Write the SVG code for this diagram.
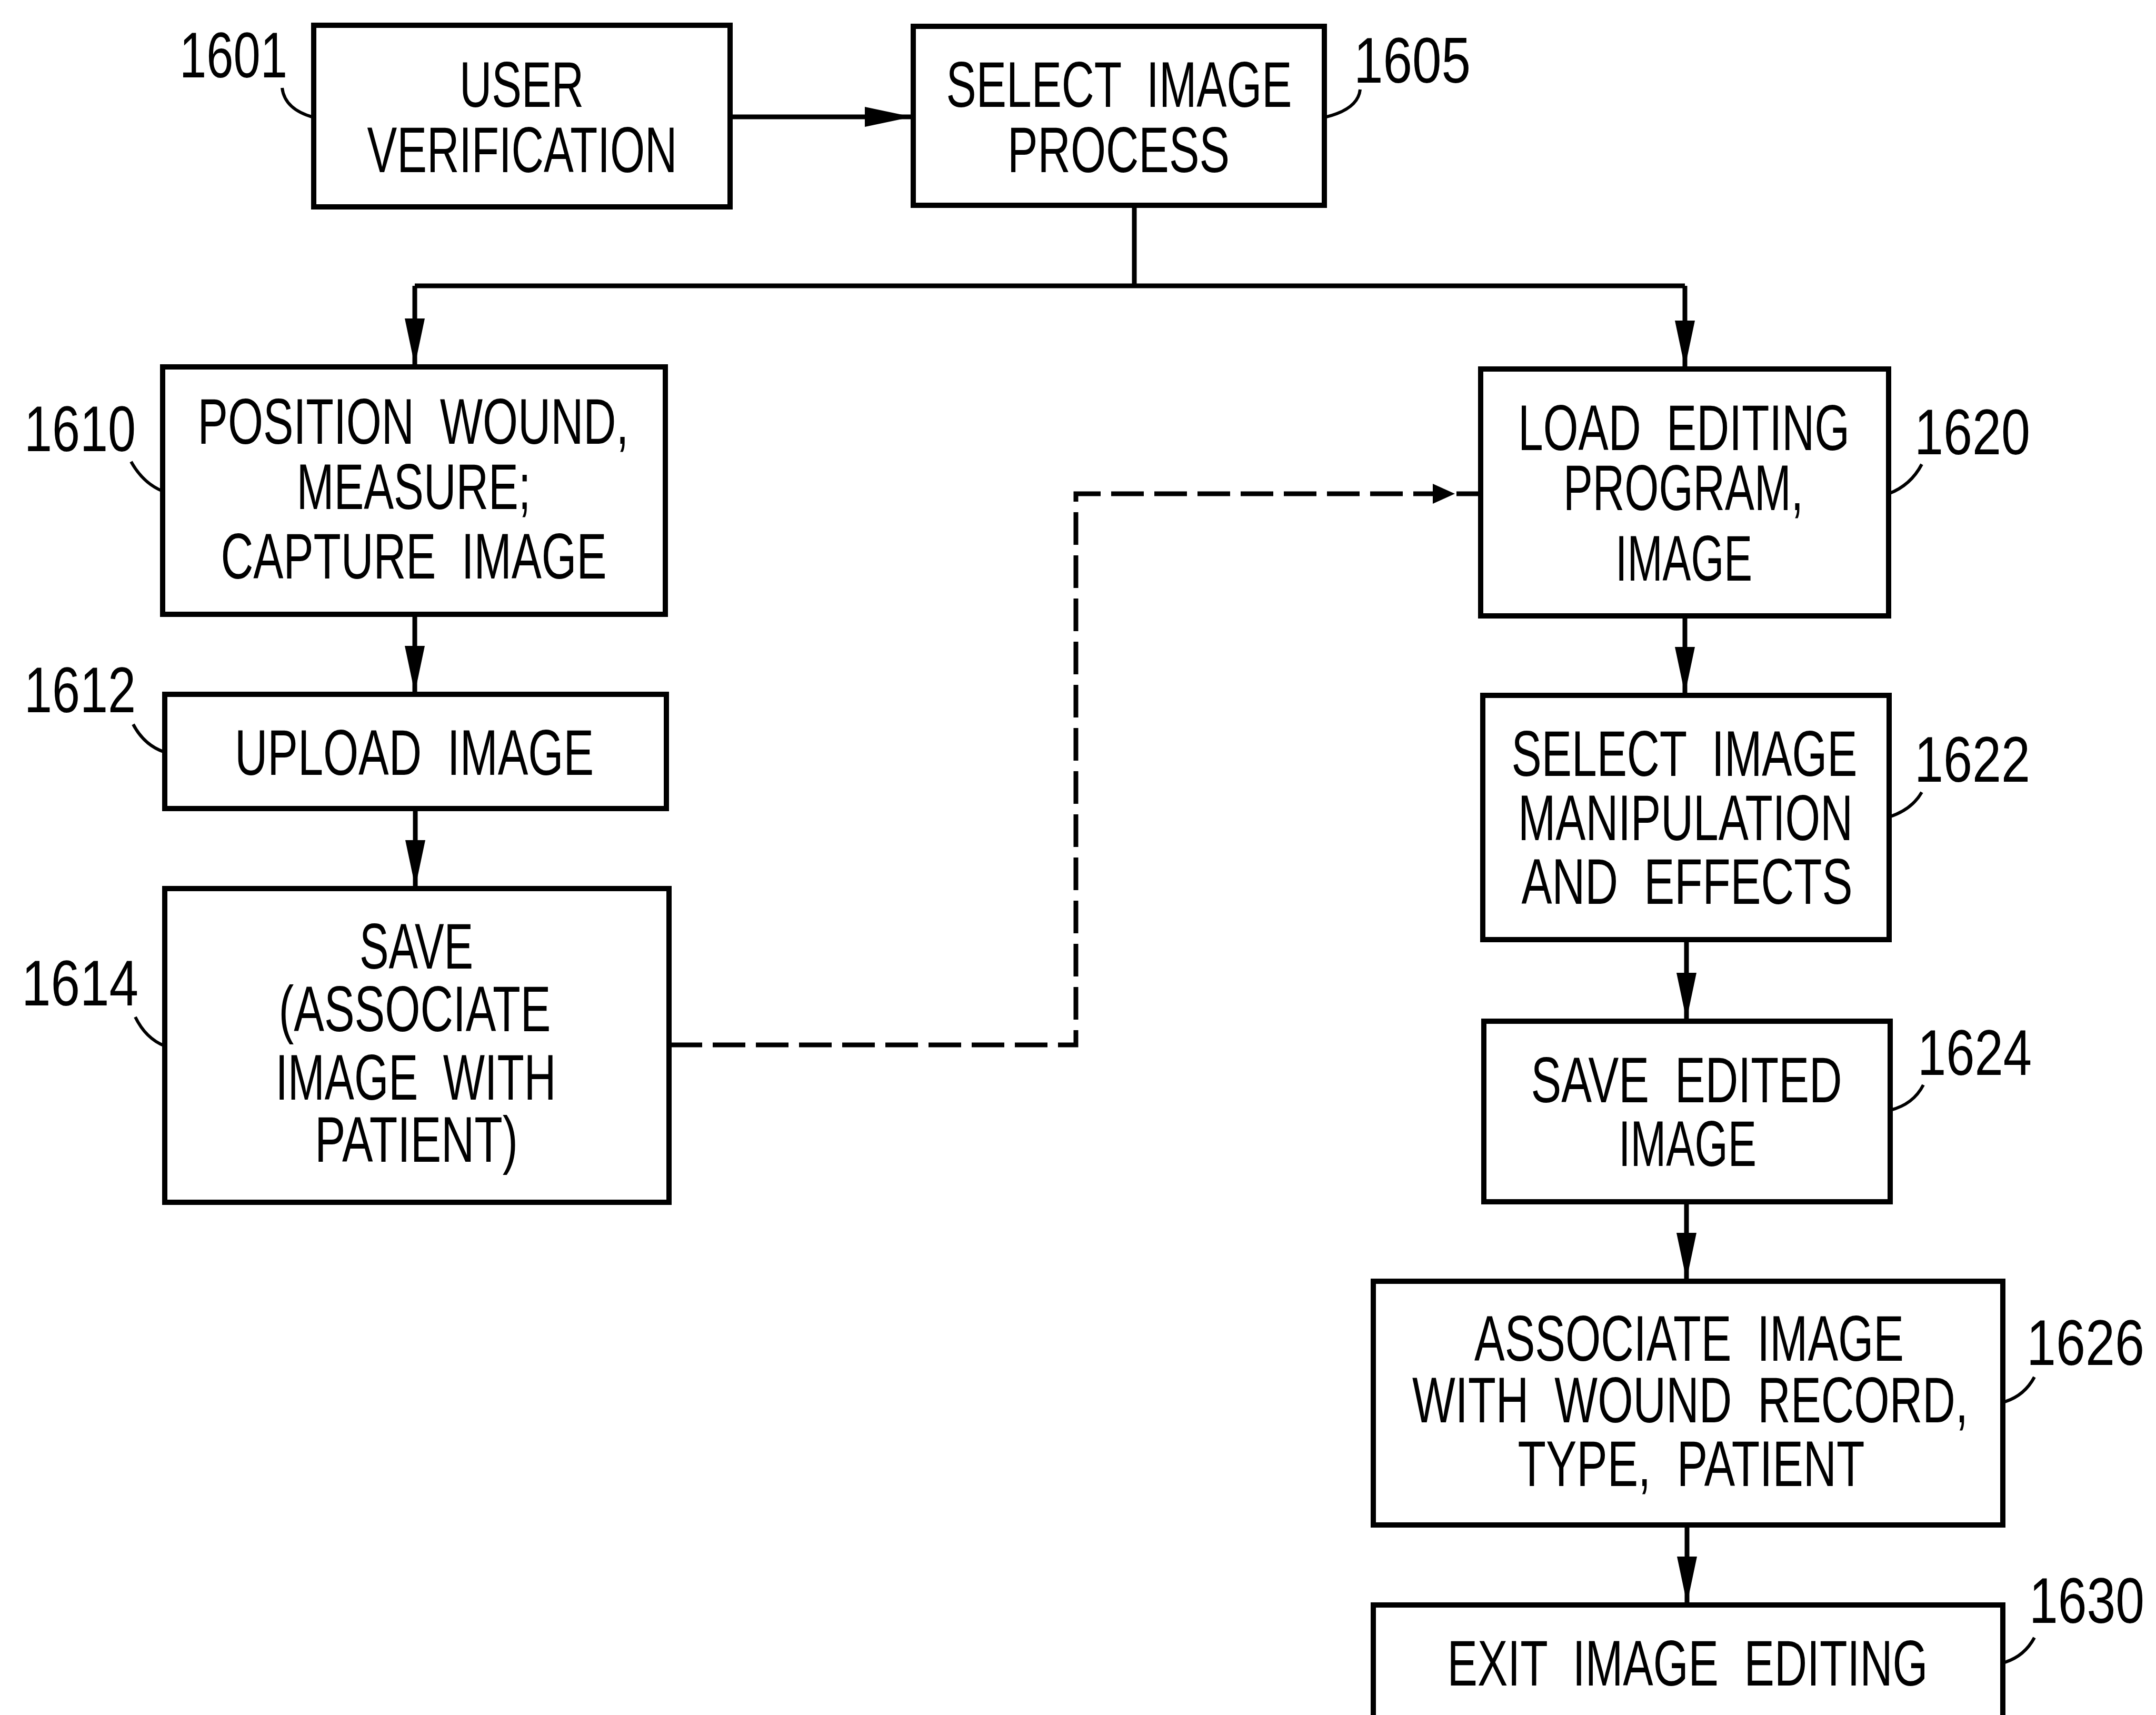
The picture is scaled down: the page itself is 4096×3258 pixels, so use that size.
<svg xmlns="http://www.w3.org/2000/svg" width="4096" height="3258" viewBox="0 0 4096 3258">
<style>
.box{fill:#fff;stroke:#000;stroke-width:10}
.t{font-family:"Liberation Sans Narrow","Liberation Sans",Arial,sans-serif;font-size:122px;fill:#000;word-spacing:35px}
.m{text-anchor:middle}
.e{text-anchor:end}
.ln{fill:none;stroke:#000;stroke-width:9}
.ld{fill:none;stroke:#000;stroke-width:6}
.dash{fill:none;stroke:#000;stroke-width:9;stroke-dasharray:62 20}
</style>
<defs>
<marker id="ah" markerUnits="userSpaceOnUse" markerWidth="92" markerHeight="40" refX="90" refY="19" orient="auto">
<path d="M0,0 L90,19 L0,38 z" fill="#000"/>
</marker>
</defs>
<rect width="4096" height="3258" fill="#fff"/>
<g id="connectors">
<path class="ln" d="M1387,222 H1733" marker-end="url(#ah)"/>
<path class="ln" d="M2155,390 V543"/>
<path class="ln" d="M788,543 H3201"/>
<path class="ln" d="M788,543 V695" marker-end="url(#ah)"/>
<path class="ln" d="M3201,543 V699" marker-end="url(#ah)"/>
<path class="ln" d="M788,1167 V1317" marker-end="url(#ah)"/>
<path class="ln" d="M789,1536 V1686" marker-end="url(#ah)"/>
<path class="ln" d="M3201,1170 V1319" marker-end="url(#ah)"/>
<path class="ln" d="M3204,1785 V1938" marker-end="url(#ah)"/>
<path class="ln" d="M3204,2283 V2432" marker-end="url(#ah)"/>
<path class="ln" d="M3205,2897 V3047" marker-end="url(#ah)"/>
<path class="dash" d="M1272,1985 H2044 V938 H2813"/>
<polygon points="2722,919 2764,938 2722,957" fill="#000"/>
</g>
<g id="n1601">
<rect class="box" x="596" y="48" width="791" height="345"/>
<text class="t m" x="991" y="203" textLength="236" lengthAdjust="spacingAndGlyphs">USER</text>
<text class="t m" x="992" y="327" textLength="589" lengthAdjust="spacingAndGlyphs">VERIFICATION</text>
<text class="t e" x="546" y="147" textLength="205" lengthAdjust="spacingAndGlyphs">1601</text>
<path class="ld" d="M536,167 Q541,208 596,223"/>
</g>
<g id="n1605">
<rect class="box" x="1735" y="50" width="781" height="340"/>
<text class="t m" x="2126" y="203" textLength="657" lengthAdjust="spacingAndGlyphs">SELECT IMAGE</text>
<text class="t m" x="2125" y="327" textLength="422" lengthAdjust="spacingAndGlyphs">PROCESS</text>
<text class="t" x="2572" y="157" textLength="222" lengthAdjust="spacingAndGlyphs">1605</text>
<path class="ld" d="M2584,170 Q2580,208 2516,223"/>
</g>
<g id="n1610">
<rect class="box" x="309" y="697" width="955" height="470"/>
<text class="t m" x="785" y="843" textLength="819" lengthAdjust="spacingAndGlyphs">POSITION WOUND,</text>
<text class="t m" x="786" y="967" textLength="445" lengthAdjust="spacingAndGlyphs">MEASURE;</text>
<text class="t m" x="786" y="1099" textLength="733" lengthAdjust="spacingAndGlyphs">CAPTURE IMAGE</text>
<text class="t e" x="258" y="857" textLength="212" lengthAdjust="spacingAndGlyphs">1610</text>
<path class="ld" d="M249,877 Q272,918 309,933"/>
</g>
<g id="n1612">
<rect class="box" x="313" y="1319" width="953" height="217"/>
<text class="t m" x="787" y="1472" textLength="682" lengthAdjust="spacingAndGlyphs">UPLOAD IMAGE</text>
<text class="t e" x="258" y="1353" textLength="212" lengthAdjust="spacingAndGlyphs">1612</text>
<path class="ld" d="M253,1376 Q274,1416 313,1429"/>
</g>
<g id="n1614">
<rect class="box" x="313" y="1688" width="958" height="596"/>
<text class="t m" x="791" y="1840" textLength="216" lengthAdjust="spacingAndGlyphs">SAVE</text>
<text class="t m" x="788" y="1959" textLength="517" lengthAdjust="spacingAndGlyphs">(ASSOCIATE</text>
<text class="t m" x="790" y="2089" textLength="533" lengthAdjust="spacingAndGlyphs">IMAGE WITH</text>
<text class="t m" x="791" y="2207" textLength="386" lengthAdjust="spacingAndGlyphs">PATIENT)</text>
<text class="t e" x="263" y="1910" textLength="222" lengthAdjust="spacingAndGlyphs">1614</text>
<path class="ld" d="M257,1932 Q277,1973 313,1987"/>
</g>
<g id="n1620">
<rect class="box" x="2813" y="701" width="775" height="469"/>
<text class="t m" x="3199" y="855" textLength="630" lengthAdjust="spacingAndGlyphs">LOAD EDITING</text>
<text class="t m" x="3198" y="969" textLength="456" lengthAdjust="spacingAndGlyphs">PROGRAM,</text>
<text class="t m" x="3199" y="1103" textLength="260" lengthAdjust="spacingAndGlyphs">IMAGE</text>
<text class="t" x="3637" y="863" textLength="220" lengthAdjust="spacingAndGlyphs">1620</text>
<path class="ld" d="M3651,882 Q3630,922 3588,938"/>
</g>
<g id="n1622">
<rect class="box" x="2817" y="1321" width="772" height="464"/>
<text class="t m" x="3200" y="1474" textLength="657" lengthAdjust="spacingAndGlyphs">SELECT IMAGE</text>
<text class="t m" x="3202" y="1596" textLength="636" lengthAdjust="spacingAndGlyphs">MANIPULATION</text>
<text class="t m" x="3205" y="1717" textLength="629" lengthAdjust="spacingAndGlyphs">AND EFFECTS</text>
<text class="t" x="3637" y="1485" textLength="220" lengthAdjust="spacingAndGlyphs">1622</text>
<path class="ld" d="M3651,1505 Q3632,1538 3589,1552"/>
</g>
<g id="n1624">
<rect class="box" x="2819" y="1940" width="772" height="343"/>
<text class="t m" x="3204" y="2094" textLength="591" lengthAdjust="spacingAndGlyphs">SAVE EDITED</text>
<text class="t m" x="3206" y="2215" textLength="262" lengthAdjust="spacingAndGlyphs">IMAGE</text>
<text class="t" x="3643" y="2042" textLength="217" lengthAdjust="spacingAndGlyphs">1624</text>
<path class="ld" d="M3654,2061 Q3635,2098 3591,2109"/>
</g>
<g id="n1626">
<rect class="box" x="2609" y="2434" width="1196" height="463"/>
<text class="t m" x="3209" y="2585" textLength="816" lengthAdjust="spacingAndGlyphs">ASSOCIATE IMAGE</text>
<text class="t m" x="3211" y="2702" textLength="1056" lengthAdjust="spacingAndGlyphs">WITH WOUND RECORD,</text>
<text class="t m" x="3213" y="2823" textLength="659" lengthAdjust="spacingAndGlyphs">TYPE, PATIENT</text>
<text class="t e" x="4074" y="2593" textLength="224" lengthAdjust="spacingAndGlyphs">1626</text>
<path class="ld" d="M3865,2616 Q3845,2653 3805,2664"/>
</g>
<g id="n1630">
<rect class="box" x="2609" y="3049" width="1196" height="300"/>
<text class="t m" x="3206" y="3202" textLength="913" lengthAdjust="spacingAndGlyphs">EXIT IMAGE EDITING</text>
<text class="t e" x="4074" y="3083" textLength="219" lengthAdjust="spacingAndGlyphs">1630</text>
<path class="ld" d="M3865,3111 Q3845,3148 3805,3159"/>
</g>
</svg>
